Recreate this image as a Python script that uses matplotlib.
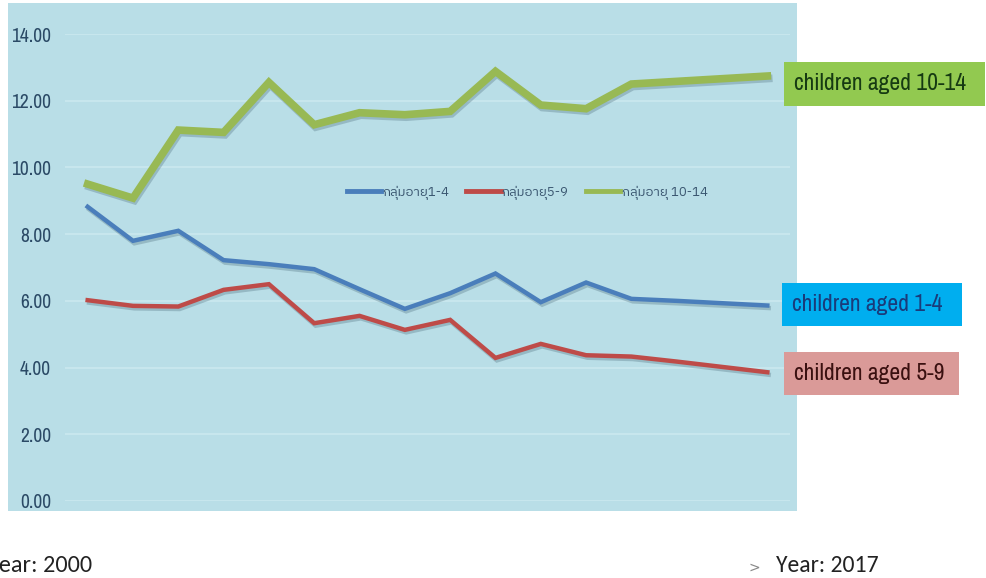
import matplotlib
matplotlib.use('Agg')
import matplotlib.pyplot as plt
import matplotlib.patheffects as pe
from matplotlib.patches import Rectangle

# Rates per age group, one value per year
years = list(range(2000, 2016))
rate_1_4 = [8.82, 7.80, 8.10, 7.22, 7.10, 6.95, 6.35, 5.76, 6.23, 6.82, 5.96, 6.55, 6.06, 6.00, 5.93, 5.86]
rate_5_9 = [6.02, 5.85, 5.83, 6.33, 6.50, 5.33, 5.55, 5.13, 5.43, 4.29, 4.71, 4.37, 4.33, 4.18, 4.02, 3.86]
rate_10_14 = [9.50, 9.08, 11.12, 11.05, 12.55, 11.28, 11.64, 11.58, 11.68, 12.88, 11.87, 11.76, 12.50, 12.58, 12.66, 12.74]

series_names = ['กลุ่มอายุ1-4', 'กลุ่มอายุ5-9', 'กลุ่มอายุ 10-14']
side_labels = ['children aged 1-4', 'children aged 5-9', 'children aged 10-14']
y_ticks = [0, 2, 4, 6, 8, 10, 12, 14]

thai = ['IBM Plex Sans Thai', 'Sarabun', 'DejaVu Sans']
narrow = ['Archivo Narrow', 'Encode Sans Condensed', 'DejaVu Sans']
plain = ['Carlito', 'Open Sans', 'DejaVu Sans']

W, H = 986, 578
fig = plt.figure(figsize=(W / 100, H / 100), dpi=100)
fig.patch.set_facecolor('white')

# chart area background
fig.patches.append(Rectangle((8 / W, 1 - 511 / H), (797 - 8) / W, (511 - 3) / H,
                             transform=fig.transFigure, facecolor='#b9dee7',
                             edgecolor='none', zorder=-1))

ax = fig.add_axes([65 / W, 1 - 501 / H, (790 - 65) / W, (501 - 34) / H])
ax.set_zorder(2)
ax.set_facecolor('none')
ax.set_xlim(-0.5, len(years) - 0.5)
ax.set_ylim(0, 14)
ax.set_yticks(y_ticks)
ax.set_yticklabels(['%.2f' % v for v in y_ticks], family=narrow, fontsize=14, color='#2b4a66')
ax.set_xticks([])
ax.tick_params(axis='y', length=0, pad=10)
for s in ax.spines.values():
    s.set_visible(False)
ax.grid(axis='y', color='#cbe8ef', linewidth=1.2)
ax.set_axisbelow(True)

x = range(len(years))
shadow = [pe.SimpleLineShadow(offset=(1.0, -1.8), shadow_color='#3a5a6a', alpha=0.28), pe.Normal()]
l1, = ax.plot(x, rate_1_4, color='#4a7ebb', lw=3.2, label=series_names[0], path_effects=shadow, solid_joinstyle='miter')
l2, = ax.plot(x, rate_5_9, color='#be4b48', lw=3.2, label=series_names[1], path_effects=shadow, solid_joinstyle='miter')
l3, = ax.plot(x, rate_10_14, color='#98b954', lw=5.5, label=series_names[2], path_effects=shadow, solid_joinstyle='miter')

leg = ax.legend(handles=[l1, l2, l3], loc='center', bbox_to_anchor=(527 / W, 1 - 193 / H),
                bbox_transform=fig.transFigure, ncol=3, frameon=False, handlelength=2.6,
                handletextpad=0.1, columnspacing=1.3, prop={'family': thai, 'size': 9.5})
for t in leg.get_texts():
    t.set_color('#3a5670')
for h in leg.legend_handles:
    h.set_linewidth(3.5)
    h.set_path_effects([])

# coloured boxes naming each series on the right
boxes = [
    (side_labels[2], 784, 62, 985, 106, '#92c950', '#163a12'),
    (side_labels[0], 782, 283, 962, 326, '#00aeef', '#1a3b7a'),
    (side_labels[1], 784, 352, 959, 395, '#da9a98', '#3a1010'),
]
for label, x0, y0, x1, y1, fc, tc in boxes:
    fig.patches.append(Rectangle((x0 / W, 1 - y1 / H), (x1 - x0) / W, (y1 - y0) / H,
                                 transform=fig.transFigure, facecolor=fc, edgecolor='none', zorder=3))
    fig.text((x0 + 10) / W, 1 - (y0 + y1) / 2 / H, label, family=narrow, fontsize=17,
             color=tc, va='center', ha='left', zorder=4)

fig.text(-13 / W, 1 - 566 / H, 'Year: 2000', fontsize=17.5, color='#222222', va='center', ha='left',
         family=plain)
fig.text(748 / W, 1 - 568 / H, '>', fontsize=10, color='#888888', va='center', ha='left')
fig.text(776 / W, 1 - 566 / H, 'Year: 2017', fontsize=17, color='#222222', va='center', ha='left',
         family=plain)

fig.savefig('out.png', dpi=100)
